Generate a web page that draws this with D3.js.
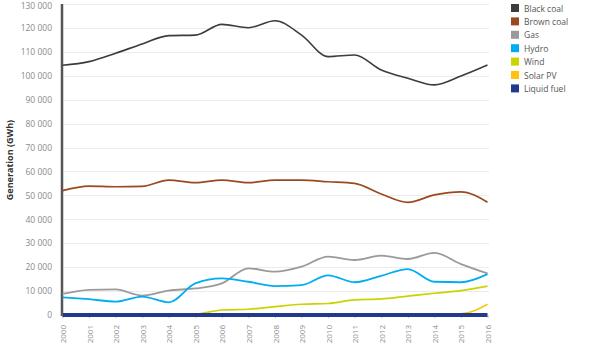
<!DOCTYPE html>
<html><head><meta charset="utf-8">
<script src="https://cdn.jsdelivr.net/npm/d3@7"></script>
<style>body{margin:0;background:#fff}svg{display:block}text{font-family:"Open Sans",Lato,sans-serif}</style>
</head><body>
<script>
const years = [2000,2001,2002,2003,2004,2005,2006,2007,2008,2009,2010,2011,2012,2013,2014,2015,2016];
const blackCoal = [104400,105900,109400,113300,116800,117000,121500,120100,123000,117000,108000,108700,102400,99000,96200,99900,104500];
const brownCoal = [52000,53900,53600,53800,56400,55300,56400,55300,56400,56400,55700,55000,50600,47100,50200,51500,47100];
const gas = [8800,10500,10700,8100,10200,11100,13200,19500,18100,20200,24400,23000,24800,23400,26000,21300,17400];
const hydro = [7400,6600,5600,7700,5300,13200,15300,13900,12100,12500,16600,13700,16400,19200,13900,13700,17100];
const wind = [0,0,0,0,0,300,2100,2400,3500,4500,4800,6300,6700,7900,9100,10200,12100];
const solarPV = [500,500,500,500,500,500,500,500,500,500,500,500,500,500,500,500,4500];
const liquidFuel = [0,0,0,0,0,0,0,0,0,0,0,0,0,0,0,0,0];
const yTicks = [0,10000,20000,30000,40000,50000,60000,70000,80000,90000,100000,110000,120000,130000];
const seriesNames = ["Black coal","Brown coal","Gas","Hydro","Wind","Solar PV","Liquid fuel"];
const seriesColors = ["#3c3c3c","#9a4a1e","#9a9a9a","#00aeef","#c9d400","#ffc20e","#213a8f"];
const seriesData = [blackCoal,brownCoal,gas,hydro,wind,solarPV,liquidFuel];
const seriesWidths = [1.6,1.7,1.8,1.8,1.7,1.6,4];

const W=600,H=358;
const svg=d3.select("body").append("svg").attr("width",W).attr("height",H);
const x=d3.scaleLinear().domain([2000,2016]).range([62.5,487.5]);
const y=d3.scaleLinear().domain([0,130000]).range([315,4]);
const fmt=v=>d3.format(",")(v).replace(/,/g," ");

// grid
svg.append("g").selectAll("line").data(yTicks.filter(d=>d>0)).join("line")
  .attr("x1",62).attr("x2",489).attr("y1",d=>Math.round(y(d))+0.5).attr("y2",d=>Math.round(y(d))+0.5)
  .attr("stroke","#ececec").attr("stroke-width",1);

// y axis
const ya=svg.append("g").attr("transform","translate(61,0)").call(d3.axisLeft(y).tickValues(yTicks).tickFormat(fmt).tickSize(0).tickPadding(9));
ya.select(".domain").remove();
ya.selectAll("text").attr("fill","#8a8a8a").style("font-size","8.5px")
  .attr("dy",d=>d===130000?"0.5em":"0.32em");
svg.append("line").attr("x1",62).attr("x2",62).attr("y1",4).attr("y2",316).attr("stroke","#555").attr("stroke-width",2.5);

// x axis
const xa=svg.append("g").attr("transform","translate(0,315)").call(d3.axisBottom(x).tickValues(years).tickFormat(d3.format("d")).tickSize(3).tickPadding(0));
xa.select(".domain").remove();
xa.selectAll("line").attr("stroke","#bbb");
xa.selectAll("text").attr("fill","#8a8a8a").style("font-size","8px")
  .attr("transform","rotate(-90)").attr("text-anchor","end").attr("dx","-10px").attr("dy","3px").attr("x",0).attr("y",0);

// title
svg.append("text").attr("transform","translate(13,160) rotate(-90)").attr("text-anchor","middle")
  .attr("fill","#333").style("font-size","9px").style("font-weight","bold").text("Generation (GWh)");

// lines
const line=d3.line().x((d,i)=>x(years[i])).y(d=>y(d)).curve(d3.curveMonotoneX);
const order=[1,2,3,4,5,0,6];
order.forEach(k=>{
  svg.append("path").datum(seriesData[k]).attr("d",line).attr("fill","none")
    .attr("stroke",seriesColors[k]).attr("stroke-width",seriesWidths[k]);
});

// legend
const lg=svg.append("g").attr("transform","translate(511,4)");
seriesNames.forEach((n,i)=>{
  const g=lg.append("g").attr("transform",`translate(0,${i*13.4})`);
  g.append("rect").attr("width",8).attr("height",8).attr("fill",seriesColors[i]);
  g.append("text").attr("x",13).attr("y",7.5).attr("fill","#555").style("font-size","8.5px").text(n);
});
</script>
</body></html>
